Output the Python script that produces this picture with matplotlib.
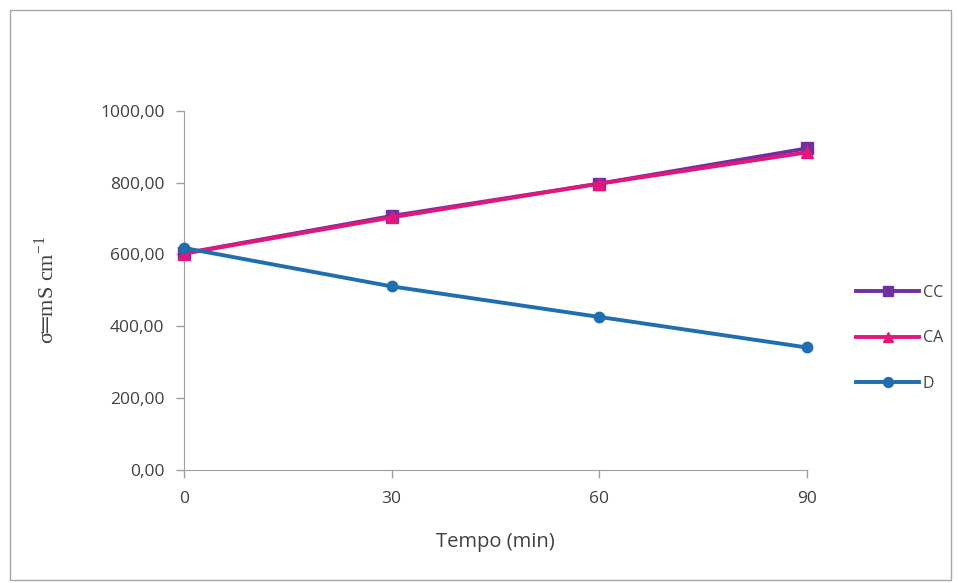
import matplotlib
matplotlib.use("Agg")
import matplotlib.pyplot as plt
from matplotlib.patches import Rectangle

plt.rcParams["font.family"] = ["Open Sans", "DejaVu Sans"]
plt.rcParams["mathtext.fontset"] = "custom"
plt.rcParams["mathtext.rm"] = "Liberation Serif"

tempo = [0, 30, 60, 90]
cc = [603, 707, 797, 895]
ca = [602, 703, 797, 884]
d = [618, 511, 426, 341]

series = [
    ("CC", cc, "#7030a0", "s", 8),
    ("CA", ca, "#e2177c", "^", 8),
    ("D", d, "#1f6eb0", "o", 7.5),
]

fig = plt.figure(figsize=(9.58, 5.83), dpi=100)
fig.patches.append(Rectangle((0.0105, 0.005), 0.982, 0.978, transform=fig.transFigure,
                             fill=False, edgecolor="#a6a6a6", linewidth=1))
ax = fig.add_axes([0.192, 0.194, 0.650, 0.616])

for name, vals, color, mk, ms in series:
    ax.plot(tempo, vals, color=color, linewidth=2.8, marker=mk, markersize=ms,
            label=name, clip_on=False, zorder=3)

ax.set_xlim(0, 90)
ax.set_ylim(0, 1000)
ax.set_xticks(tempo)
ax.set_yticks(range(0, 1001, 200))
ax.set_yticklabels([f"{v:.2f}".replace(".", ",") for v in range(0, 1001, 200)])
for s in ("top", "right"):
    ax.spines[s].set_visible(False)
for s in ("left", "bottom"):
    ax.spines[s].set_color("#a0a0a0")
ax.tick_params(colors="#a0a0a0", labelcolor="#404040", labelsize=12.5, length=6, width=1)
ax.tick_params(axis="x", pad=9)
ax.tick_params(axis="y", pad=8)

ax.set_xlabel("Tempo (min)", fontsize=14.5, color="#404040", labelpad=18)
ax.set_ylabel("σ═mS cm$^{-1}$", family=["Liberation Serif", "DejaVu Serif"],
              fontsize=16, color="#404040", labelpad=30)

ax.legend(loc="center left", bbox_to_anchor=(0.894, 0.42), bbox_transform=fig.transFigure,
          frameon=False, fontsize=11.5, borderpad=0, borderaxespad=0, markerscale=0.95,
          handlelength=3.9, handletextpad=0.25, labelspacing=1.85, labelcolor="#404040")

fig.savefig("out.png", dpi=100)
